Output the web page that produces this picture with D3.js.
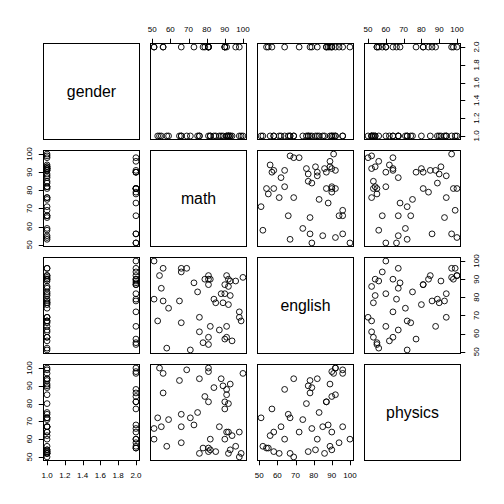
<!DOCTYPE html>
<html><head><meta charset="utf-8">
<script src="https://cdn.jsdelivr.net/npm/d3@7"></script>
<style>body{margin:0;background:#fff}svg{display:block}</style>
</head><body><svg id="c" width="504" height="504"></svg>
<script>
// ---- data (one row per student) ----
const variables = ["gender", "math", "english", "physics"];
const gender = [1,1,2,1,1,1,2,2,2,1, 1,1,2,1,1,1,1,1,2,1, 1,1,2,1,1,2,2,1,2,2, 2,1,1,1,2,1,1,2,1,1, 1,1,1,2,1,2,1,1,2,2];
const math = [99,98,98,100,94,91,90,91,96,92, 93,89,90,88,92,93,92,91,90,87, 85,84,81,81,82,78,81,82,81,81, 79,76,76,75,73,71,69,66,66,66, 65,58,59,56,55,56,54,53,51,51];
const english = [67,69,72,91,56,58,57,64,89,76, 81,77,82,82,86,89,90,92,87,62, 77,79,54,58,64,55,87,90,90,92, 90,61,69,83,88,51,96,94,96,66, 78,52,74,78,85,96,92,67,79,100];
const physics = [52,50,64,97,62,64,77,88,56,80, 54,90,60,94,52,91,64,85,81,67, 53,89,55,53,60,55,81,54,98,100, 84,52,94,75,68,72,99,58,67,74, 93,56,71,86,67,97,100,72,66,60];
const genderTicks = [1.0, 1.2, 1.4, 1.6, 1.8, 2.0];
const scoreTicks = [50, 60, 70, 80, 90, 100];

const columns = [gender, math, english, physics];
const tickSets = [genderTicks, scoreTicks, scoreTicks, scoreTicks];
const tickFormat = [d => d.toFixed(1), d => String(d), d => String(d), d => String(d)];

// ---- layout (R pairs defaults, 4x4) ----
const W = 504, n = 4;
const lineH = 0.66 * 14.4;
const outer = 4 * lineH;
const cell = (W - 2 * outer) / n;
const inner = lineH * 0.5;
const pStart = k => Math.round(outer + k * cell + inner) + 0.5;
const pEnd = k => Math.round(outer + (k + 1) * cell - inner) - 0.5;
const FONT = "'Liberation Sans', Arial, Helvetica, sans-serif";
const tickLen = lineH * 0.5;
const labOff = 14.5;

const svg = d3.select("#c");
svg.append("rect").attr("width", W).attr("height", W).attr("fill", "#fff");

function padded(arr) {
  const [lo, hi] = d3.extent(arr);
  const r = hi - lo;
  return [lo - 0.04 * r, hi + 0.04 * r];
}
const xScales = columns.map((c, k) => d3.scaleLinear().domain(padded(c)).range([pStart(k), pEnd(k)]));
const yScales = columns.map((c, k) => d3.scaleLinear().domain(padded(c)).range([pEnd(k), pStart(k)]));

const rows = gender.map((g, i) => columns.map(c => c[i]));

for (let i = 0; i < n; i++) {
  for (let j = 0; j < n; j++) {
    const g = svg.append("g");
    const x0 = pStart(j), x1 = pEnd(j), y0 = pStart(i), y1 = pEnd(i);
    if (i === j) {
      g.append("text")
        .attr("x", (x0 + x1) / 2).attr("y", (y0 + y1) / 2)
        .attr("text-anchor", "middle").attr("dominant-baseline", "central")
        .attr("font-family", FONT).attr("font-size", 15.84).attr("fill", "#000")
        .text(variables[i]);
    } else {
      const xs = xScales[j], ys = yScales[i];
      g.selectAll("circle").data(rows).join("circle")
        .attr("cx", d => xs(d[j])).attr("cy", d => ys(d[i]))
        .attr("r", 2.9).attr("fill", "none").attr("stroke", "#000").attr("stroke-width", 0.9);
    }
    g.append("rect").attr("x", x0).attr("y", y0).attr("width", x1 - x0).attr("height", y1 - y0)
      .attr("fill", "none").attr("stroke", "#000").attr("stroke-width", 1);
  }
}

function axisLine(g, pts) {
  g.append("line").attr("x1", pts[0]).attr("y1", pts[1]).attr("x2", pts[2]).attr("y2", pts[3])
    .attr("stroke", "#000").attr("stroke-width", 1);
}
function drawAxis(side, k) {
  const ticks = tickSets[k], fmt = tickFormat[k];
  const g = svg.append("g").attr("font-family", FONT).attr("font-size", 8).attr("fill", "#000");
  if (side === 1 || side === 3) {
    const s = xScales[k];
    const yEdge = side === 1 ? pEnd(n - 1) : pStart(0);
    const dir = side === 1 ? 1 : -1;
    axisLine(g, [s(ticks[0]), yEdge, s(ticks[ticks.length - 1]), yEdge]);
    ticks.forEach(t => {
      const x = Math.round(s(t)) + 0.5;
      axisLine(g, [x, yEdge, x, yEdge + dir * tickLen]);
      g.append("text").attr("x", s(t)).attr("y", yEdge + dir * labOff)
        .attr("text-anchor", "middle").attr("dominant-baseline", "central").text(fmt(t));
    });
  } else {
    const s = yScales[k];
    const xEdge = side === 2 ? pStart(0) : pEnd(n - 1);
    const dir = side === 2 ? -1 : 1;
    axisLine(g, [xEdge, s(ticks[0]), xEdge, s(ticks[ticks.length - 1])]);
    ticks.forEach(t => {
      const y = Math.round(s(t)) + 0.5;
      axisLine(g, [xEdge, y, xEdge + dir * tickLen, y]);
      const lx = xEdge + dir * (side === 2 ? labOff : labOff + 1);
      g.append("text").attr("transform", `translate(${lx},${s(t)}) rotate(-90)`)
        .attr("text-anchor", "middle").attr("dominant-baseline", "central").text(fmt(t));
    });
  }
}
// R pairs: top axis on even columns, bottom on odd, left on even rows, right on odd
for (let k = 0; k < n; k++) {
  if ((k + 1) % 2 === 0) drawAxis(3, k); else drawAxis(1, k);
  if ((k + 1) % 2 === 0) drawAxis(2, k); else drawAxis(4, k);
}
</script></body></html>
